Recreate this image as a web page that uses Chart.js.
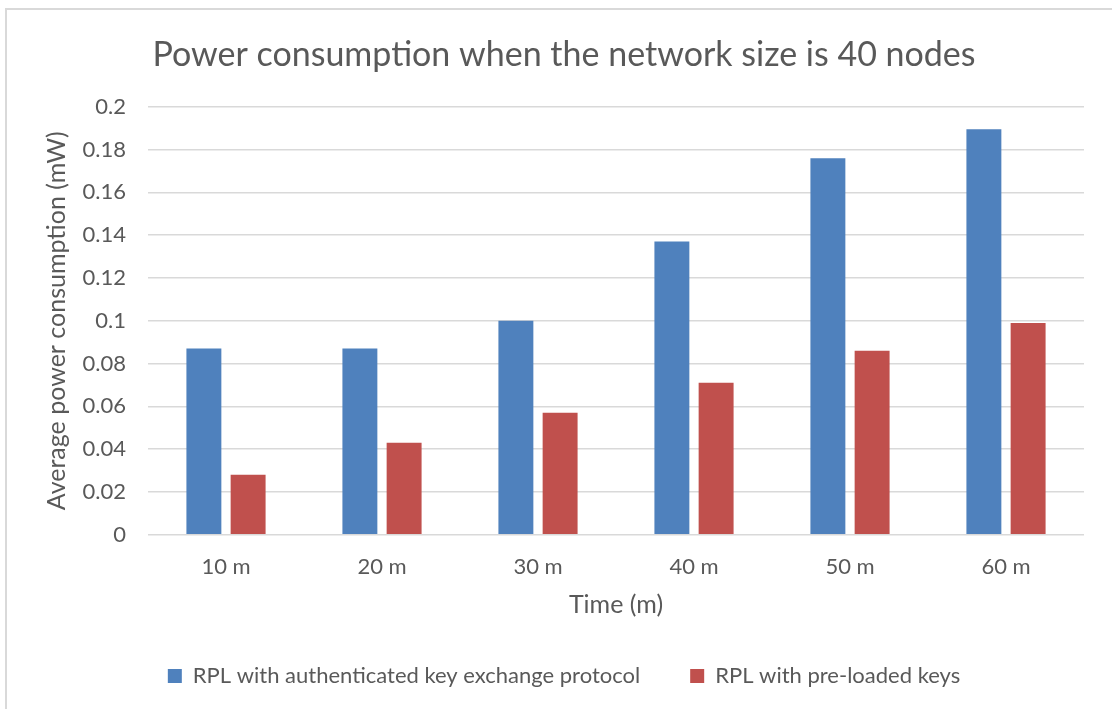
<!DOCTYPE html>
<html>
<head>
<meta charset="utf-8">
<script src="https://cdn.jsdelivr.net/npm/chart.js@4"></script>
<style>
    html, body { margin: 0; padding: 0; background: #fff; overflow: hidden; }
    #frame { position: absolute; left: 5px; top: 8px; width: 1200px; height: 800px; border: 2px solid #d9d9d9; }
    #powerChart { position: absolute; left: 0; top: 0; }
</style>
</head>
<body>
<div id="frame"></div>
<canvas id="powerChart" width="1112" height="709"></canvas>
<script>
const categories = ["10 m", "20 m", "30 m", "40 m", "50 m", "60 m"];
const authKeyExchange = [0.087, 0.087, 0.1, 0.137, 0.176, 0.1895];
const preloadedKeys = [0.028, 0.043, 0.057, 0.071, 0.086, 0.099];
const yTickLabels = ["0", "0.02", "0.04", "0.06", "0.08", "0.1", "0.12", "0.14", "0.16", "0.18", "0.2"];

const textColor = "#595959";
const fontFamily = "Lato, 'Open Sans', sans-serif";

const ctx = document.getElementById("powerChart").getContext("2d");

new Chart(ctx, {
    type: "bar",
    data: {
        labels: categories,
        datasets: [
            {
                label: "RPL with authenticated key exchange protocol",
                data: authKeyExchange,
                backgroundColor: "#4f81bd",
            },
            {
                label: "RPL with pre-loaded keys",
                data: preloadedKeys,
                backgroundColor: "#c0504d",
            },
        ].map((dataset) => ({
            ...dataset,
            categoryPercentage: 0.567,
            barPercentage: 0.79,
        })),
    },
    options: {
        responsive: false,
        animation: false,
        layout: {
            padding: { left: 44, right: 28, top: 0, bottom: 12 },
        },
        plugins: {
            title: {
                display: true,
                text: "Power consumption when the network size is 40 nodes",
                color: textColor,
                font: { family: fontFamily, size: 34, weight: "normal" },
                padding: { top: 35, bottom: 31 },
            },
            legend: {
                position: "bottom",
                labels: {
                    color: textColor,
                    font: { family: fontFamily, size: 22 },
                    boxWidth: 14,
                    boxHeight: 14,
                    padding: 50,
                },
            },
            tooltip: { enabled: false },
        },
        scales: {
            x: {
                grid: { display: false },
                border: { display: false },
                ticks: {
                    color: textColor,
                    font: { family: fontFamily, size: 22 },
                    padding: 11,
                },
                title: {
                    display: true,
                    text: "Time (m)",
                    color: textColor,
                    font: { family: fontFamily, size: 25 },
                    padding: { top: 0, bottom: -5 },
                },
                afterFit: (scale) => {
                    scale.height = 80.3;
                },
            },
            y: {
                min: 0,
                max: 0.2,
                border: { display: false },
                grid: {
                    color: "#d9d9d9",
                    lineWidth: 1.5,
                    drawTicks: false,
                },
                ticks: {
                    stepSize: 0.02,
                    color: textColor,
                    font: { family: fontFamily, size: 22 },
                    padding: 22,
                    callback: (value, index) => yTickLabels[index],
                },
                title: {
                    display: true,
                    text: "Average power consumption (mW)",
                    color: textColor,
                    font: { family: fontFamily, size: 25 },
                    padding: { top: -2, bottom: 0 },
                },
                afterFit: (scale) => {
                    scale.width = 104;
                },
            },
        },
    },
});
</script>
</body>
</html>
